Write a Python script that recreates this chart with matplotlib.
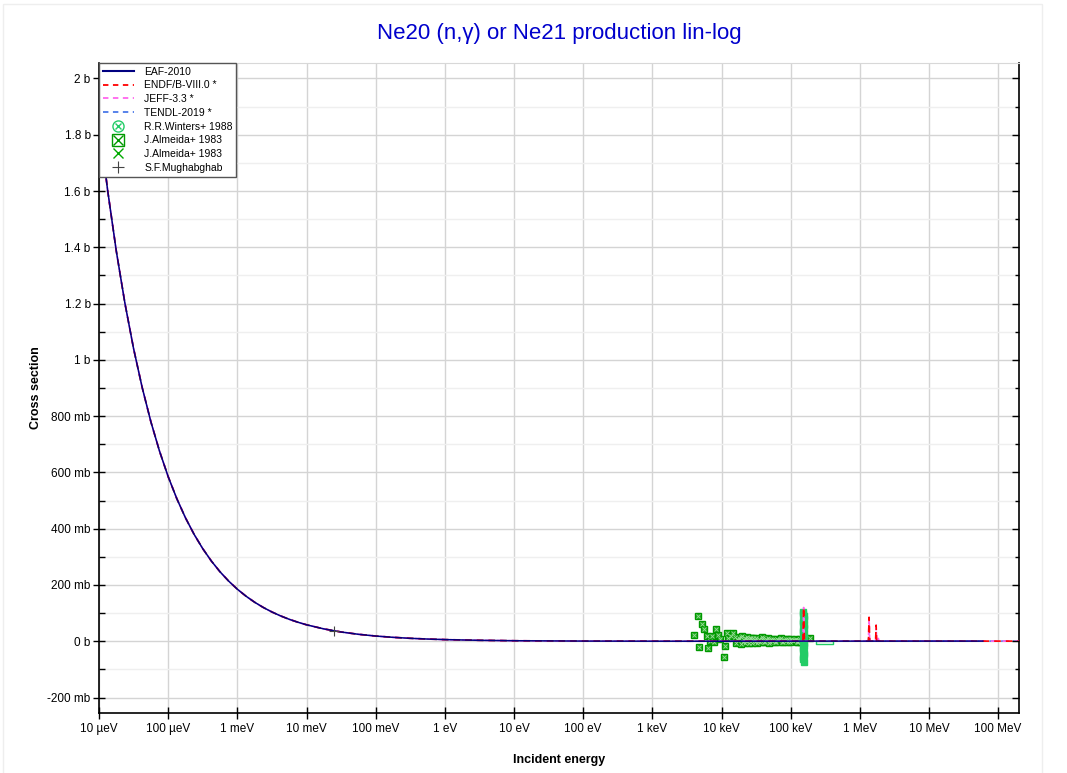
import matplotlib
matplotlib.use("Agg")
import matplotlib.pyplot as plt
from matplotlib.ticker import FixedLocator, FuncFormatter, MultipleLocator
from matplotlib.lines import Line2D
import numpy as np

plt.rcParams['font.family'] = ['Liberation Sans', 'DejaVu Sans']

# ---------------- data (energies in eV, cross sections in mb) ----------------
eval_e = [1.0e-5, 1.334e-5, 1.778e-5, 2.371e-5, 3.162e-5, 4.217e-5, 5.623e-5, 7.499e-5,
          1.0e-4, 1.334e-4, 1.778e-4, 2.371e-4, 3.162e-4, 4.217e-4, 5.623e-4, 7.499e-4,
          1.0e-3, 1.334e-3, 1.778e-3, 2.371e-3, 3.162e-3, 4.217e-3, 5.623e-3, 7.499e-3,
          1.0e-2, 1.778e-2, 3.162e-2, 5.623e-2, 0.1, 0.1778, 0.3162, 0.5623, 1.0,
          3.162, 10.0, 100.0, 1.0e3, 1.0e4, 1.0e5, 1.5e5, 1.54e5, 1.58e5, 1.0e6,
          1.33e6, 1.36e6, 1.39e6, 1.69e6, 1.72e6, 1.75e6, 1.83e6, 1.85e6, 1.87e6,
          1.0e7, 6.0e7, 2.0e8]
eaf_mb = [1850, 1602, 1387, 1201, 1040, 901, 780, 675.6,
          585, 506.6, 438.7, 379.9, 329.0, 284.9, 246.7, 213.7,
          185.0, 160.2, 138.7, 120.1, 104.0, 90.1, 78.0, 67.6,
          58.5, 43.9, 32.9, 24.7, 18.5, 13.9, 10.4, 7.8, 5.85,
          3.3, 1.85, 0.59, 0.19, 0.1, 0.3, 0.5, 0.8, 0.5, 0.4,
          0.4, 0.5, 0.4, 0.4, 0.5, 0.4, 0.4, 0.5, 0.4,
          0.5, 0.5, None]
endf_mb = [1850, 1602, 1387, 1201, 1040, 901, 780, 675.6,
           585, 506.6, 438.7, 379.9, 329.0, 284.9, 246.7, 213.7,
           185.0, 160.2, 138.7, 120.1, 104.0, 90.1, 78.0, 67.6,
           58.5, 43.9, 32.9, 24.7, 18.5, 13.9, 10.4, 7.8, 5.85,
           3.3, 1.85, 0.59, 0.19, 0.1, 0.3, 0.5, 120.0, 0.5, 0.4,
           0.4, 85.0, 0.4, 0.4, 57.0, 0.4, 0.4, 10.0, 0.4,
           0.5, 0.5, 0.5]
jeff_mb = endf_mb
tendl_mb = [1850, 1602, 1387, 1201, 1040, 901, 780, 675.6,
            585, 506.6, 438.7, 379.9, 329.0, 284.9, 246.7, 213.7,
            185.0, 160.2, 138.7, 120.1, 104.0, 90.1, 78.0, 67.6,
            58.5, 43.9, 32.9, 24.7, 18.5, 13.9, 10.4, 7.8, 5.85,
            3.3, 1.85, 0.59, 0.19, 0.1, 0.3, 0.5, 60.0, 0.5, 0.4,
            0.4, 40.0, 0.4, 0.4, 30.0, 0.4, 0.4, 5.0, 0.4,
            0.5, 0.5, 0.5]

# J.Almeida+ 1983 (boxed x) : energy in keV, value in mb
almeida_box_kev = [4.0, 4.55, 4.8, 5.3, 5.6, 6.1, 6.4, 6.9, 7.2, 7.8, 8.2, 9.0, 9.5, 10.7,
                   11.3, 12.2, 12.4, 13.5, 14.9, 15.8, 17.0, 18.0, 18.9, 20.0, 21.0, 22.0,
                   23.0, 24.5, 26.0, 27.5, 29.0, 31.0, 33.0, 35.0, 37.0, 39.0, 41.0, 44.0,
                   47.0, 50.0, 53.0, 56.0, 60.0, 64.0, 68.0, 72.0, 77.0, 82.0, 87.0, 93.0,
                   99.0, 105.0, 112.0, 119.0, 126.0, 133.0, 140.0, 146.0, 191.0,
                   16.2, 17.5, 19.4, 20.5, 21.5, 22.5, 23.7, 25.2, 26.7, 28.2, 30.0,
                   32.0, 34.0, 36.0, 38.0, 40.0, 42.5, 45.5, 48.5, 51.5, 54.5, 58.0,
                   62.0, 66.0, 70.0, 74.5, 79.5, 84.5, 90.0, 96.0, 102.0, 108.5, 115.5,
                   122.5, 129.5, 136.5, 143.0, 148.0]
almeida_box_mb = [22, 89, -19, 61, 42, 20, -25, 2, 20, -4, 42, 22, 9, -57,
                  -17, 31, 10, 18, 28, 16, 8, 12, -10, 20, 6, -8,
                  14, 3, 10, -5, 12, 4, -6, 9, 2, 14, -3, 7,
                  11, -4, 6, 9, -2, 8, 3, 10, -3, 6, 2, 9,
                  -1, 5, 3, 8, -2, 6, 2, 4, 12,
                  -6, 4, 15, -4, 11, 2, 9, -7, 13, 5, -3,
                  10, 1, -4, 8, 12, -2, 3, -5, 8, 1, 5,
                  -4, 6, 9, -3, 4, 7, -2, 5, 8, 0, 6,
                  -3, 4, 7, -1, 3]

# R.R.Winters+ 1988 (circle x) around the 150 keV resonance
winters_kev = [150, 152, 154, 156, 150, 152, 154, 156, 150, 152, 154, 156,
               150, 152, 154, 156, 150, 152, 154, 156, 150, 152, 154]
winters_mb = [104, 96, 88, 80, 72, 64, 56, 48, 40, 32, 24, 16,
              8, 0, -8, -16, -24, -32, -40, -48, -56, -64, -72]

# J.Almeida+ 1983 (x) : one broad bin
almeida_x_kev = [234, 407]
almeida_x_lo_mb = -11
almeida_x_hi_mb = 2

# S.F.Mughabghab thermal value
mugh_ev = [0.0253]
mugh_mb = [37.0]

xtick_vals = [1e-5, 1e-4, 1e-3, 1e-2, 1e-1, 1, 10, 100, 1e3, 1e4, 1e5, 1e6, 1e7, 1e8]
xtick_labels = ['10 µeV', '100 µeV', '1 meV', '10 meV', '100 meV', '1 eV', '10 eV',
                '100 eV', '1 keV', '10 keV', '100 keV', '1 MeV', '10 MeV', '100 MeV']

# ---------------- figure ----------------
fig = plt.figure(figsize=(10.67, 7.73), dpi=100)
ax = fig.add_axes([99 / 1067, 1 - 713 / 773, (1019 - 99) / 1067, (713 - 63) / 773])


def to_b(lst):
    return [np.nan if v is None else v / 1000.0 for v in lst]


green_light = '#22cc66'
green_dark = '#009900'
green_x = '#00aa00'

ax.plot(eval_e, to_b(tendl_mb), color='#4a78e8', lw=1.2, ls=(0, (4, 3)), zorder=5)
ax.plot(eval_e, to_b(jeff_mb), color='#ff66ee', lw=1.2, ls=(2, (4, 3)), zorder=5)
ax.plot(eval_e, to_b(endf_mb), color='#ff0000', lw=1.2, ls=(0, (4, 3)), zorder=5)
ax.plot(eval_e, to_b(eaf_mb), color='#000080', lw=1.1, zorder=6)

# experimental data
ab_e = [k * 1e3 for k in almeida_box_kev]
ab_v = [v / 1000.0 for v in almeida_box_mb]
ax.plot(ab_e, ab_v, ls='none', marker='s', ms=5, mfc='#22aa22', mec=green_dark, mew=1, zorder=3)
ax.plot(ab_e, ab_v, ls='none', marker='x', ms=3.2, mec='#99dd99', mew=0.6, zorder=3)

w_e = [k * 1e3 for k in winters_kev]
w_v = [v / 1000.0 for v in winters_mb]
ax.plot(w_e, w_v, ls='none', marker='s', ms=4, mfc=green_light, mec=green_light, zorder=4)

ax.fill_between([k * 1e3 for k in almeida_x_kev], almeida_x_lo_mb / 1000.0,
                almeida_x_hi_mb / 1000.0, facecolor='none', edgecolor=green_light, lw=1, zorder=4)

ax.plot(mugh_ev, [v / 1000.0 for v in mugh_mb], ls='none', marker='+', ms=7, mec='#444444', mew=0.8, zorder=7)

# ---------------- axes ----------------
ax.set_xscale('log')
ax.set_xlim(1e-5, 2e8)
ax.set_ylim(-0.255, 2.055)

ax.xaxis.set_major_locator(FixedLocator(xtick_vals))
ax.xaxis.set_minor_locator(FixedLocator([]))
ax.set_xticklabels(xtick_labels)

ax.yaxis.set_major_locator(MultipleLocator(0.2))
ax.yaxis.set_minor_locator(MultipleLocator(0.1))


def yfmt(v, pos):
    v = round(v, 6)
    if v == 0:
        return '0 b'
    if abs(v) >= 1:
        return f'{v:g} b'
    return f'{v * 1000:g} mb'


ax.yaxis.set_major_formatter(FuncFormatter(yfmt))

ax.grid(True, which='major', color='#d4d4d4', lw=1)
ax.grid(True, which='minor', axis='y', color='#efefef', lw=1)
ax.set_axisbelow(True)

ax.tick_params(axis='both', which='major', direction='inout', length=8, width=1,
               labelsize=8.5, colors='black')
ax.tick_params(axis='y', which='minor', direction='in', length=4, width=1)
ax.tick_params(axis='y', which='major', pad=2)
ax.tick_params(axis='x', which='major', pad=3)

# right-side inward ticks
ax2 = ax.twinx()
ax2.set_ylim(ax.get_ylim())
ax2.yaxis.set_major_locator(MultipleLocator(0.2))
ax2.yaxis.set_minor_locator(MultipleLocator(0.1))
ax2.tick_params(axis='y', which='major', direction='in', length=5, width=1, labelright=False)
ax2.tick_params(axis='y', which='minor', direction='in', length=3, width=1)
for s in ax2.spines.values():
    s.set_visible(False)

for s in ['left', 'bottom', 'right']:
    ax.spines[s].set_color('black')
    ax.spines[s].set_linewidth(1.2)
ax.spines['top'].set_color('#d8d8d8')

ax.set_xlabel('Incident energy', fontsize=9, fontweight='bold', labelpad=14)
ax.set_ylabel('Cross section', fontsize=9, fontweight='bold', labelpad=4)
fig.text((99 + 1019) / 2 / 1067, 1 - 33 / 773, 'Ne20 (n,γ) or Ne21 production lin-log',
         color='#0000cc', fontsize=16, ha='center', va='center')

# legend
handles = [
    Line2D([], [], color='#000080', lw=1.5),
    Line2D([], [], color='#ff0000', lw=1.3, ls=(0, (3, 2.5))),
    Line2D([], [], color='#ff66ee', lw=1.3, ls=(0, (3, 2.5))),
    Line2D([], [], color='#4a78e8', lw=1.3, ls=(0, (3, 2.5))),
    (Line2D([], [], ls='none', marker='o', ms=8, mfc='none', mec=green_light, mew=1),
     Line2D([], [], ls='none', marker='x', ms=5, mec=green_light, mew=1)),
    (Line2D([], [], ls='none', marker='s', ms=8, mfc='none', mec=green_dark, mew=1),
     Line2D([], [], ls='none', marker='x', ms=7, mec=green_dark, mew=1)),
    Line2D([], [], ls='none', marker='x', ms=7, mec=green_x, mew=1),
    Line2D([], [], ls='none', marker='+', ms=9, mec='#444444', mew=0.8),
]
labels = ['EAF-2010', 'ENDF/B-VIII.0 *', 'JEFF-3.3 *', 'TENDL-2019 *',
          'R.R.Winters+ 1988', 'J.Almeida+ 1983', 'J.Almeida+ 1983', 'S.F.Mughabghab']
leg = ax.legend(handles, labels, loc='upper left', bbox_to_anchor=(0, 1), borderaxespad=0,
                fontsize=7.5, handlelength=3.0, handletextpad=1.0, labelspacing=0.36,
                borderpad=0.35, fancybox=False, framealpha=1, edgecolor='#555555')
leg.get_frame().set_linewidth(1)
leg.set_zorder(10)

# faint outer border
fig.patches.append(plt.Rectangle((0.003, -0.01), 1 - 0.003 - 25 / 1067, 1 - 4 / 773 + 0.01,
                                 transform=fig.transFigure, fill=False, edgecolor='#eeeeee', lw=1))

fig.savefig('out.png', dpi=100)
